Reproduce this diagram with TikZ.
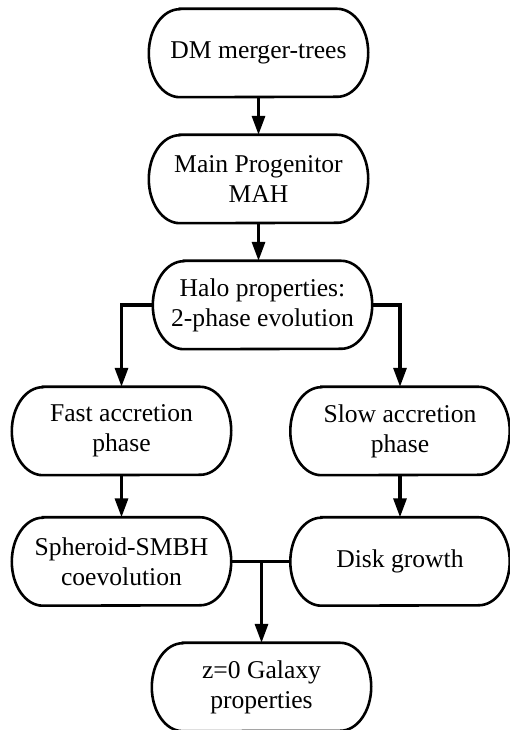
\documentclass[tikz,border=0pt]{standalone}
\usepackage{fontspec}
\setmainfont{Liberation Serif}
\usetikzlibrary{arrows.meta}
\tikzset{
  stadium/.style={minimum width=219pt, minimum height=88pt, inner sep=0pt, align=center,
    font=\fontsize{25.6}{30}\selectfont},
  outline/.style={draw=black, line width=2.6pt},
  conn/.style={line width=3.2pt, -{Triangle[width=13pt,length=19pt]}},
  link/.style={line width=2.6pt}
}
\begin{document}
\begin{tikzpicture}[x=1pt,y=1pt]
\useasboundingbox (0,0) rectangle (509,730);
\node[stadium] (dm) at (258.5,677) {DM merger-trees};
\node[stadium] (mp) at (258.5,551) {Main Progenitor\\MAH};
\node[stadium] (halo) at (262.5,425) {Halo properties:\\2-phase evolution};
\node[stadium] (fast) at (121.5,299) {Fast accretion\\phase};
\node[stadium] (slow) at (400,299) {Slow accretion\\phase};
\node[stadium] (sph) at (121.5,168.5) {Spheroid-SMBH\\coevolution};
\node[stadium] (disk) at (400,168.5) {Disk growth};
\node[stadium] (gal) at (261.5,43) {z=0 Galaxy\\properties};
\foreach \n in {dm,mp,halo,fast,slow,sph,disk,gal}{
  \draw[outline] ([xshift=31pt]\n.north west) -- ([xshift=-31pt]\n.north east)
      arc[start angle=90, end angle=-90, x radius=31pt, y radius=44pt]
      -- ([xshift=31pt]\n.south west)
      arc[start angle=270, end angle=90, x radius=31pt, y radius=44pt] -- cycle;
}
\draw[conn] (dm) -- (mp);
\draw[conn] (mp.south) -- (mp.south |- halo.north);
\draw[conn] (halo.west) -| (fast.north);
\draw[conn] (halo.east) -| (slow.north);
\draw[conn] (fast) -- (sph);
\draw[conn] (slow) -- (disk);
\draw[link] (sph.east) -- (disk.west);
\coordinate (j) at (sph.east -| gal.north);
\draw[conn] (j) -- (gal.north);
\end{tikzpicture}
\end{document}
